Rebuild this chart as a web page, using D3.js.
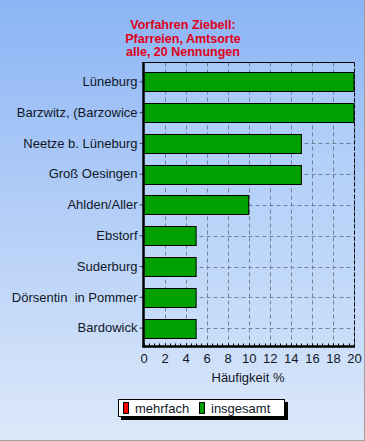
<!DOCTYPE html>
<html><head><meta charset="utf-8">
<script src="https://cdn.jsdelivr.net/npm/d3@7"></script>
<style>html,body{margin:0;padding:0;overflow:hidden;background:#fff}svg{display:block}text{white-space:pre}</style>
</head><body>
<script>
const categories = ["Lüneburg","Barzwitz, (Barzowice","Neetze b. Lüneburg","Groß Oesingen","Ahlden/Aller","Ebstorf","Suderburg","Dörsentin  in Pommer","Bardowick"];
const insgesamt = [20,20,15,15,10,5,5,5,5];
const xTicks = [0,2,4,6,8,10,12,14,16,18,20];
const titleLines = ["Vorfahren Ziebell:","Pfarreien, Amtsorte","alle, 20 Nennungen"];
const legendItems = [{name:"mehrfach",color:"#ff0000"},{name:"insgesamt",color:"#00a000"}];

const W=365,H=441;
const FONT="Arial, Liberation Sans, sans-serif";
const svg=d3.select("body").append("svg").attr("width",W).attr("height",H);
const defs=svg.append("defs");
const g1=defs.append("linearGradient").attr("id","bg").attr("x1",0).attr("y1",0).attr("x2",0).attr("y2",1);
g1.append("stop").attr("offset","0%").attr("stop-color","#8cb5f5");
g1.append("stop").attr("offset","100%").attr("stop-color","#dde9fa");
const g2=defs.append("linearGradient").attr("id","pbg").attr("x1",0).attr("y1",0).attr("x2",0).attr("y2",1);
g2.append("stop").attr("offset","0%").attr("stop-color","#a6c8f8");
g2.append("stop").attr("offset","100%").attr("stop-color","#cadef9");

svg.append("rect").attr("width",W).attr("height",H).attr("fill","url(#bg)");
svg.append("line").attr("x1",W-0.5).attr("x2",W-0.5).attr("y1",0).attr("y2",H).attr("stroke","#a0a0a0");
svg.append("line").attr("x1",0).attr("x2",W).attr("y1",H-0.5).attr("y2",H-0.5).attr("stroke","#a0a0a0");

const L=143.5,R=354,T=62.5,B=346.5;
const x=d3.scaleLinear().domain([0,20]).range([L,R]);
const y=d3.scaleBand().domain(categories).range([66.5,343.5]).paddingInner(0.38).paddingOuter(0.19);

svg.append("rect").attr("x",L).attr("y",T).attr("width",R-L).attr("height",B-T).attr("fill","url(#pbg)");

// title
const title=svg.append("text").attr("x",183).attr("y",29).attr("text-anchor","middle")
  .attr("font-family",FONT).attr("font-weight","bold").attr("font-size",12.5).attr("fill","#e0001a");
titleLines.forEach((t,i)=>title.append("tspan").attr("x",183).attr("y",29+i*13.5).text(t));

// grid
const grid=svg.append("g").attr("stroke","#5a6478").attr("stroke-width",1).attr("stroke-dasharray","4,3").attr("opacity",0.75);
xTicks.slice(1).forEach(v=>grid.append("line").attr("x1",Math.round(x(v))+0.5).attr("x2",Math.round(x(v))+0.5).attr("y1",T).attr("y2",B));
categories.forEach(c=>{const yy=Math.round(y(c)+y.bandwidth()/2)+0.5;grid.append("line").attr("x1",L).attr("x2",R).attr("y1",yy).attr("y2",yy);});

// bars
svg.append("g").selectAll("rect").data(categories).join("rect")
  .attr("x",L).attr("y",d=>Math.round(y(d))+0.5)
  .attr("width",(d,i)=>x(insgesamt[i])-L).attr("height",Math.round(y.bandwidth()))
  .attr("fill","#00a000").attr("stroke","#000").attr("stroke-width",1);

// frame
svg.append("line").attr("x1",L).attr("x2",R).attr("y1",T).attr("y2",T).attr("stroke","#000");
svg.append("line").attr("x1",R+0.5).attr("x2",R+0.5).attr("y1",T).attr("y2",B).attr("stroke","#000").attr("stroke-dasharray","4,2");

// y axis
const ya=svg.append("g").attr("transform",`translate(${L},0)`).call(d3.axisLeft(y).tickSize(4).tickPadding(2));
ya.select(".domain").remove();
ya.selectAll(".tick line").attr("stroke","#404040");
ya.selectAll("text").attr("font-family",FONT).attr("font-size",13).attr("fill","#101828").style("white-space","pre");
svg.append("line").attr("x1",143.5).attr("x2",143.5).attr("y1",T-0.5).attr("y2",B+1).attr("stroke","#000").attr("stroke-width",2.5);

// x axis
const xa=svg.append("g").attr("transform",`translate(0,${B})`).call(d3.axisBottom(x).tickValues(xTicks).tickSize(0).tickPadding(7).tickFormat(d3.format("d")));
xa.select(".domain").remove();
xa.selectAll("text").attr("font-family",FONT).attr("font-size",13).attr("fill","#101828");
const minor=d3.range(0,20.01,0.5);
svg.append("g").selectAll("line").data(minor).join("line")
  .attr("x1",d=>Math.round(x(d))+0.5).attr("x2",d=>Math.round(x(d))+0.5)
  .attr("y1",B-3).attr("y2",B).attr("stroke","#000");
svg.append("line").attr("x1",L-1).attr("x2",R+1).attr("y1",B).attr("y2",B).attr("stroke","#000").attr("stroke-width",2.5);

svg.append("text").attr("x",248).attr("y",382).attr("text-anchor","middle")
  .attr("font-family",FONT).attr("font-size",13).attr("fill","#101828").text("Häufigkeit %");

// legend
svg.append("rect").attr("x",121).attr("y",402).attr("width",167).attr("height",18).attr("fill","#000");
svg.append("rect").attr("x",118.5).attr("y",399.5).attr("width",166).attr("height",17).attr("fill","#fff").attr("stroke","#000");
const lg=svg.append("g");
const lx=[123.5,199.5];
legendItems.forEach((d,i)=>{
  lg.append("rect").attr("x",lx[i]).attr("y",402.5).attr("width",5).attr("height",11).attr("fill",d.color).attr("stroke","#000");
  lg.append("text").attr("x",lx[i]+11.5).attr("y",413).attr("font-family",FONT).attr("font-size",13).attr("fill","#101828").text(d.name);
});
</script>
</body></html>
